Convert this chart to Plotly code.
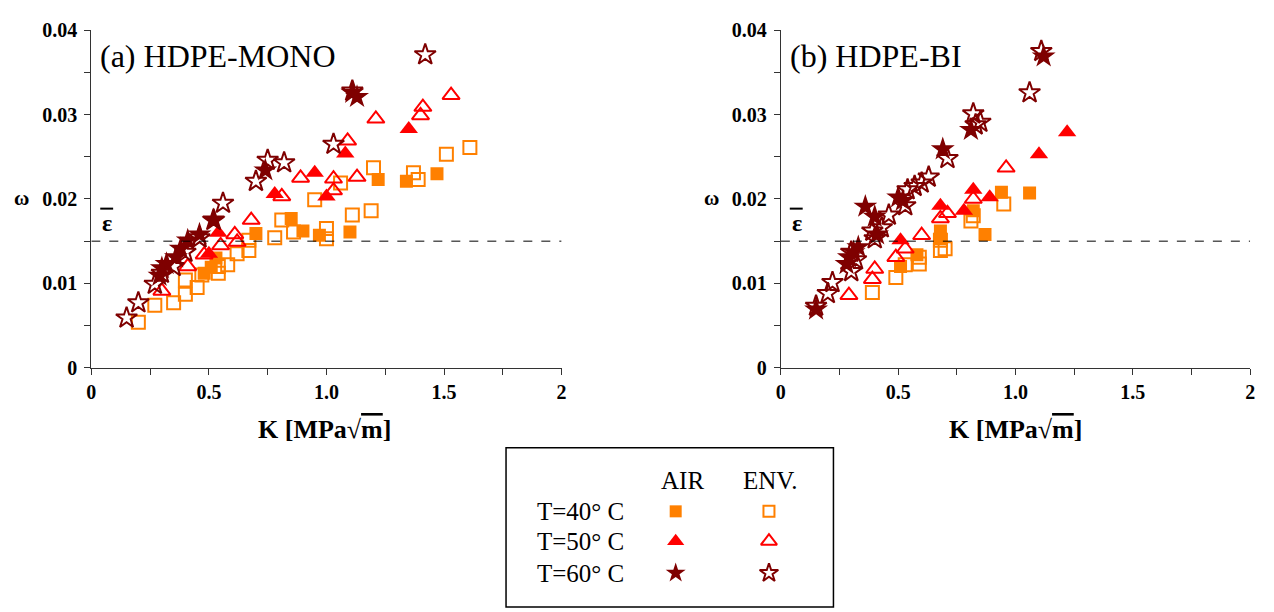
import plotly.graph_objects as go

W, H = 1274, 612
FONT = "Liberation Serif"
ORANGE = "#FF8000"
RED = "#FF0000"
DARK = "#7F0000"

# ---------------- data : (a) HDPE-MONO ----------------
a_air40_K = [0.48, 0.51, 0.53, 0.70, 0.85, 0.90, 0.97, 1.10, 1.22, 1.34, 1.47]
a_air40_w = [0.0112, 0.0119, 0.0130, 0.0159, 0.0177, 0.0162, 0.0157, 0.0161, 0.0223, 0.0221, 0.0230]
a_env40_K = [0.20, 0.27, 0.35, 0.40, 0.40, 0.45, 0.47, 0.54, 0.54, 0.58, 0.62, 0.67, 0.67, 0.78, 0.81,
             0.86, 0.95, 1.00, 1.00, 1.06, 1.11, 1.19, 1.20, 1.37, 1.39, 1.51, 1.61]
a_env40_w = [0.0054, 0.0074, 0.0077, 0.0087, 0.0104, 0.0095, 0.0110, 0.0112, 0.0120, 0.0122, 0.0135,
             0.0139, 0.0151, 0.0154, 0.0175, 0.0161, 0.0199, 0.0153, 0.0165, 0.0219, 0.0181, 0.0186,
             0.0237, 0.0231, 0.0223, 0.0253, 0.0261]
a_air50_K = [0.50, 0.54, 0.78, 0.95, 1.00, 1.08, 1.35]
a_air50_w = [0.0135, 0.0160, 0.0206, 0.0231, 0.0203, 0.0254, 0.0283]
a_env50_K = [0.30, 0.41, 0.48, 0.55, 0.61, 0.62, 0.68, 0.81, 0.89, 1.03, 1.03, 1.13, 1.09, 1.21,
             1.40, 1.41, 1.53]
a_env50_w = [0.0091, 0.0120, 0.0134, 0.0145, 0.0158, 0.0149, 0.0175, 0.0203, 0.0225, 0.0224, 0.0210,
             0.0226, 0.0269, 0.0295, 0.0299, 0.0309, 0.0323]
a_air60_K = [0.29, 0.30, 0.32, 0.36, 0.38, 0.41, 0.46, 0.52, 0.74, 1.11, 1.13]
a_air60_w = [0.0109, 0.0118, 0.0123, 0.0131, 0.0141, 0.0151, 0.0158, 0.0175, 0.0234, 0.0326, 0.0321]
a_env60_K = [0.15, 0.20, 0.27, 0.30, 0.35, 0.40, 0.46, 0.52, 0.56, 0.70, 0.75, 0.82, 1.03, 1.11, 1.42]
a_env60_w = [0.0059, 0.0077, 0.0099, 0.0112, 0.0120, 0.0137, 0.0154, 0.0175, 0.0195, 0.0221, 0.0246,
             0.0243, 0.0265, 0.0328, 0.0371]

# ---------------- data : (b) HDPE-BI ----------------
b_air40_K = [0.51, 0.58, 0.68, 0.68, 0.82, 0.87, 0.94, 1.06]
b_air40_w = [0.0120, 0.0134, 0.0153, 0.0162, 0.0186, 0.0158, 0.0208, 0.0207]
b_env40_K = [0.39, 0.49, 0.53, 0.59, 0.59, 0.68, 0.68, 0.70, 0.81, 0.82, 0.95]
b_env40_w = [0.0089, 0.0107, 0.0122, 0.0123, 0.0131, 0.0151, 0.0139, 0.0141, 0.0174, 0.0180, 0.0194]
b_air50_K = [0.51, 0.68, 0.78, 0.82, 0.89, 1.10, 1.22]
b_air50_w = [0.0151, 0.0192, 0.0186, 0.0211, 0.0202, 0.0253, 0.0279]
b_env50_K = [0.29, 0.39, 0.40, 0.49, 0.53, 0.60, 0.68, 0.71, 0.82, 0.96]
b_env50_w = [0.0086, 0.0105, 0.0117, 0.0131, 0.0141, 0.0157, 0.0177, 0.0183, 0.0200, 0.0237]
b_air60_K = [0.15, 0.28, 0.29, 0.31, 0.33, 0.36, 0.40, 0.41, 0.50, 0.52, 0.69, 0.81, 1.12]
b_air60_w = [0.0069, 0.0123, 0.0131, 0.0137, 0.0143, 0.0191, 0.0179, 0.0158, 0.0202, 0.0198, 0.0259,
             0.0282, 0.0369]
b_env60_K = [0.15, 0.20, 0.22, 0.30, 0.32, 0.30, 0.39, 0.40, 0.43, 0.46, 0.53, 0.54, 0.57, 0.60, 0.63,
             0.71, 0.82, 0.85, 0.83, 1.06, 1.11]
b_env60_w = [0.0073, 0.0088, 0.0101, 0.0137, 0.0128, 0.0114, 0.0162, 0.0153, 0.0166, 0.0181, 0.0192,
             0.0211, 0.0215, 0.0219, 0.0226, 0.0248, 0.0301, 0.0291, 0.0288, 0.0326, 0.0375]

eps_bar = 0.015
x_ticks = [0, 0.25, 0.5, 0.75, 1.0, 1.25, 1.5, 1.75, 2.0]
x_tick_text = ["0", "", "0.5", "", "1.0", "", "1.5", "", "2"]
y_ticks = [0, 0.005, 0.01, 0.015, 0.02, 0.025, 0.03, 0.035, 0.04]
y_tick_text = ["0", "", "0.01", "", "0.02", "", "0.03", "", "0.04"]
panel_titles = ["(a) HDPE-MONO", "(b) HDPE-BI"]
legend_cols = ["AIR", "ENV."]
legend_rows = ["T=40° C", "T=50° C", "T=60° C"]

series_style = [
    ("square", ORANGE, 13), ("square-open", ORANGE, 13),
    ("triangle-up", RED, 16), ("triangle-up-open", RED, 15),
    ("star", DARK, 18), ("star-open", DARK, 16),
]
legend_sizes = [12, 11, 15, 14, 15, 14]

fig = go.Figure()

def add_panel(data, xa, ya):
    for (K, w), (sym, col, sz) in zip(data, series_style):
        fig.add_trace(go.Scatter(
            x=K, y=w, mode="markers", xaxis=xa, yaxis=ya, showlegend=False,
            marker=dict(symbol=sym, color=col, size=sz,
                        line=dict(color=col, width=2 if "open" in sym else 0))))

add_panel([(a_air40_K, a_air40_w), (a_env40_K, a_env40_w), (a_air50_K, a_air50_w),
           (a_env50_K, a_env50_w), (a_air60_K, a_air60_w), (a_env60_K, a_env60_w)], "x", "y")
add_panel([(b_air40_K, b_air40_w), (b_env40_K, b_env40_w), (b_air50_K, b_air50_w),
           (b_env50_K, b_env50_w), (b_air60_K, b_air60_w), (b_env60_K, b_env60_w)], "x2", "y2")

# legend keys on an overlay axis measured in page pixels
leg_x = [676, 770]
leg_y = [519, 550, 583]
for r, ry in enumerate(leg_y):
    for c, cx in enumerate(leg_x):
        sym, col, _ = series_style[2 * r + c]
        fig.add_trace(go.Scatter(
            x=[cx], y=[ry], mode="markers", xaxis="x3", yaxis="y3", showlegend=False,
            hoverinfo="skip",
            marker=dict(symbol=sym, color=col, size=legend_sizes[2 * r + c],
                        line=dict(color=col, width=2 if "open" in sym else 0))))

tickfont = dict(family=FONT, size=20, color="black", weight="bold")

def xaxis_cfg(x0, x1):
    return dict(domain=[x0 / W, x1 / W], range=[0, 2], showline=True, linecolor="#333",
                linewidth=1, ticks="outside", ticklen=6, tickcolor="#333", tickvals=x_ticks,
                ticktext=x_tick_text, tickfont=tickfont, showgrid=False, zeroline=False,
                fixedrange=True)

def yaxis_cfg(anchor):
    return dict(domain=[1 - 370 / H, 1 - 20 / H], range=[0, 0.04], showline=True, linecolor="#333",
                linewidth=1, ticks="outside", ticklen=6, tickcolor="#333", tickvals=y_ticks,
                ticktext=y_tick_text, tickfont=tickfont, showgrid=False, zeroline=False,
                ticklabelstandoff=3, anchor=anchor, fixedrange=True)

fig.update_layout(
    width=W, height=H, margin=dict(l=0, r=0, t=0, b=0),
    font=dict(family=FONT, color="black"),
    paper_bgcolor="white", plot_bgcolor="rgba(0,0,0,0)",
    xaxis=dict(xaxis_cfg(87, 561), anchor="y"),
    yaxis=yaxis_cfg("x"),
    xaxis2=dict(xaxis_cfg(782, 1255), anchor="y2"),
    yaxis2=yaxis_cfg("x2"),
    xaxis3=dict(domain=[0, 1], range=[0, W], visible=False, anchor="y3", fixedrange=True),
    yaxis3=dict(domain=[0, 1], range=[H, 0], visible=False, anchor="x3", fixedrange=True),
    showlegend=False,
)

shapes = []
for xa, ya in [("x", "y"), ("x2", "y2")]:
    shapes.append(dict(type="line", xref=xa, yref=ya, x0=0, x1=2, y0=eps_bar, y1=eps_bar,
                       line=dict(color="black", width=1, dash="dash")))
# epsilon bar (overline)
for px in [97, 792]:
    shapes.append(dict(type="line", xref="paper", yref="paper", x0=(px - 1) / W, x1=(px + 12) / W,
                       y0=1 - 205 / H, y1=1 - 205 / H, line=dict(color="black", width=2)))
# legend frame
shapes.append(dict(type="rect", xref="paper", yref="paper", x0=505 / W, x1=835 / W,
                   y0=-0.01, y1=1 - 453 / H, line=dict(color="black", width=1.5)))
fig.update_layout(shapes=shapes)

ann = []
def txt(text, px, py, size, xanchor="center", bold=False):
    ann.append(dict(text=f"<b>{text}</b>" if bold else text, x=px / W, y=1 - py / H,
                    xref="paper", yref="paper", showarrow=False, xanchor=xanchor,
                    yanchor="middle", font=dict(family=FONT, size=size, color="black")))

txt(panel_titles[0], 94, 47, 32, "left")
txt(panel_titles[1], 789, 47, 32, "left")
for px in [97, 792]:
    txt("ε", px + 6, 220, 24, "center", bold=True)
txt("ω", 17, 194, 21, bold=True)
txt("ω", 712, 194, 21, bold=True)
xtitle = "K [MPa√<span style='text-decoration:overline'>m</span>]"
txt(xtitle, 322, 434, 26, bold=True)
txt(xtitle, 1018, 434, 26, bold=True)
txt(legend_cols[0], 683, 487, 25)
txt(legend_cols[1], 771, 487, 25)
for name, ry in zip(legend_rows, leg_y):
    txt(name, 534, ry, 25, "left")
fig.update_layout(annotations=ann)

fig.write_html("out.html")
